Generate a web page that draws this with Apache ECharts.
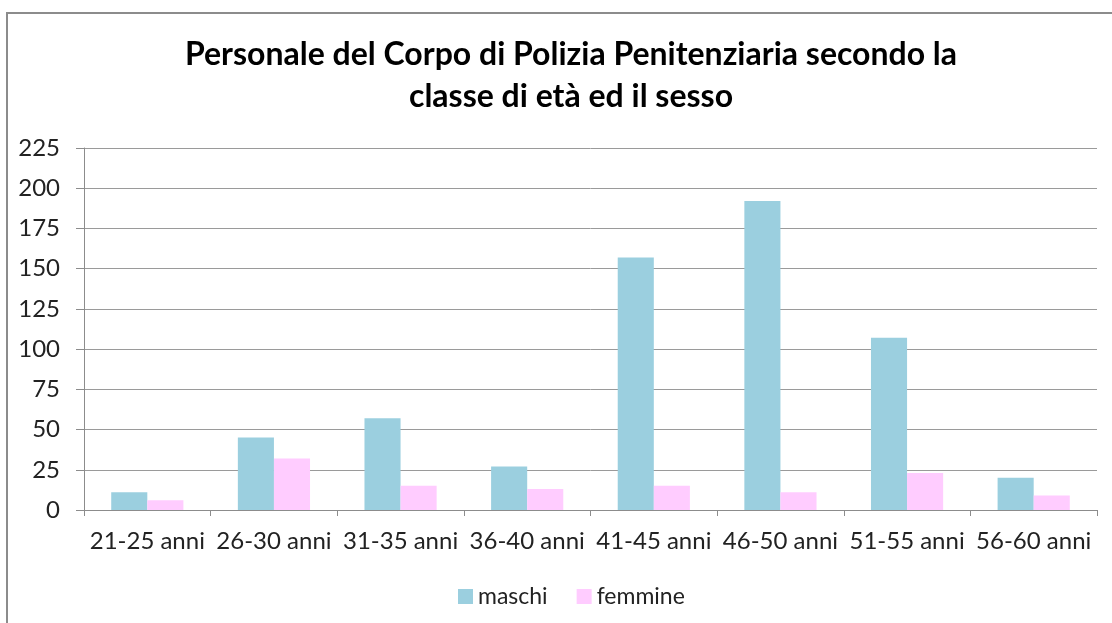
<!DOCTYPE html>
<html>
<head>
<meta charset="utf-8">
<script src="https://cdn.jsdelivr.net/npm/echarts@6/dist/echarts.min.js"></script>
<style>
  html, body { margin: 0; padding: 0; background: #fff; }
  #main { width: 1112px; height: 623px; }
</style>
</head>
<body>
<div id="main"></div>
<script>
// dati
var categorie = ['21-25 anni', '26-30 anni', '31-35 anni', '36-40 anni', '41-45 anni', '46-50 anni', '51-55 anni', '56-60 anni'];
var maschi = [11, 45, 57, 27, 157, 192, 107, 20];
var femmine = [6, 32, 15, 13, 15, 11, 23, 9];

var font = 'Lato';
var myChart = echarts.init(document.getElementById('main'));

var option = {
    animation: false,
    textStyle: { fontFamily: font },
    graphic: [
        {
            type: 'rect',
            shape: { x: 7, y: 13, width: 1200, height: 700 },
            style: { fill: 'none', stroke: '#8c8c8c', lineWidth: 2 },
            silent: true
        }
    ],
    title: {
        text: 'Personale del Corpo di Polizia Penitenziaria secondo la\nclasse di età ed il sesso',
        left: 566,
        textAlign: 'center',
        top: 29,
        textStyle: {
            fontFamily: font,
            fontWeight: 'bold',
            fontSize: 32,
            lineHeight: 42,
            color: '#000'
        }
    },
    legend: {
        data: ['maschi', 'femmine'],
        left: 453,
        top: 580,
        itemWidth: 15,
        itemHeight: 15,
        itemGap: 29,
        icon: 'rect',
        textStyle: { fontFamily: font, fontSize: 23, color: '#222', padding: [0, 0, 0, 0] }
    },
    grid: {
        left: 84,
        right: 15,
        top: 148,
        bottom: 113
    },
    xAxis: {
        type: 'category',
        data: categorie,
        axisLine: { lineStyle: { color: '#8c8c8c', width: 1 } },
        axisTick: { show: true, length: 6, lineStyle: { color: '#8c8c8c' } },
        axisLabel: { fontFamily: font, fontSize: 24, color: '#222', margin: 19, interval: 0 }
    },
    yAxis: {
        type: 'value',
        min: 0,
        max: 225,
        interval: 25,
        axisLine: { show: true, lineStyle: { color: '#8c8c8c', width: 1 } },
        axisTick: { show: true, length: 8, lineStyle: { color: '#8c8c8c' } },
        splitLine: { lineStyle: { color: '#9a9a9a', width: 1 } },
        axisLabel: { fontFamily: font, fontSize: 24, color: '#222', margin: 24 }
    },
    series: [
        {
            name: 'maschi',
            type: 'bar',
            data: maschi,
            barGap: '0%',
            barCategoryGap: '43%',
            itemStyle: { color: '#9bcfdf' }
        },
        {
            name: 'femmine',
            type: 'bar',
            data: femmine,
            itemStyle: { color: '#ffccff' }
        }
    ]
};

myChart.setOption(option);
</script>
</body>
</html>
